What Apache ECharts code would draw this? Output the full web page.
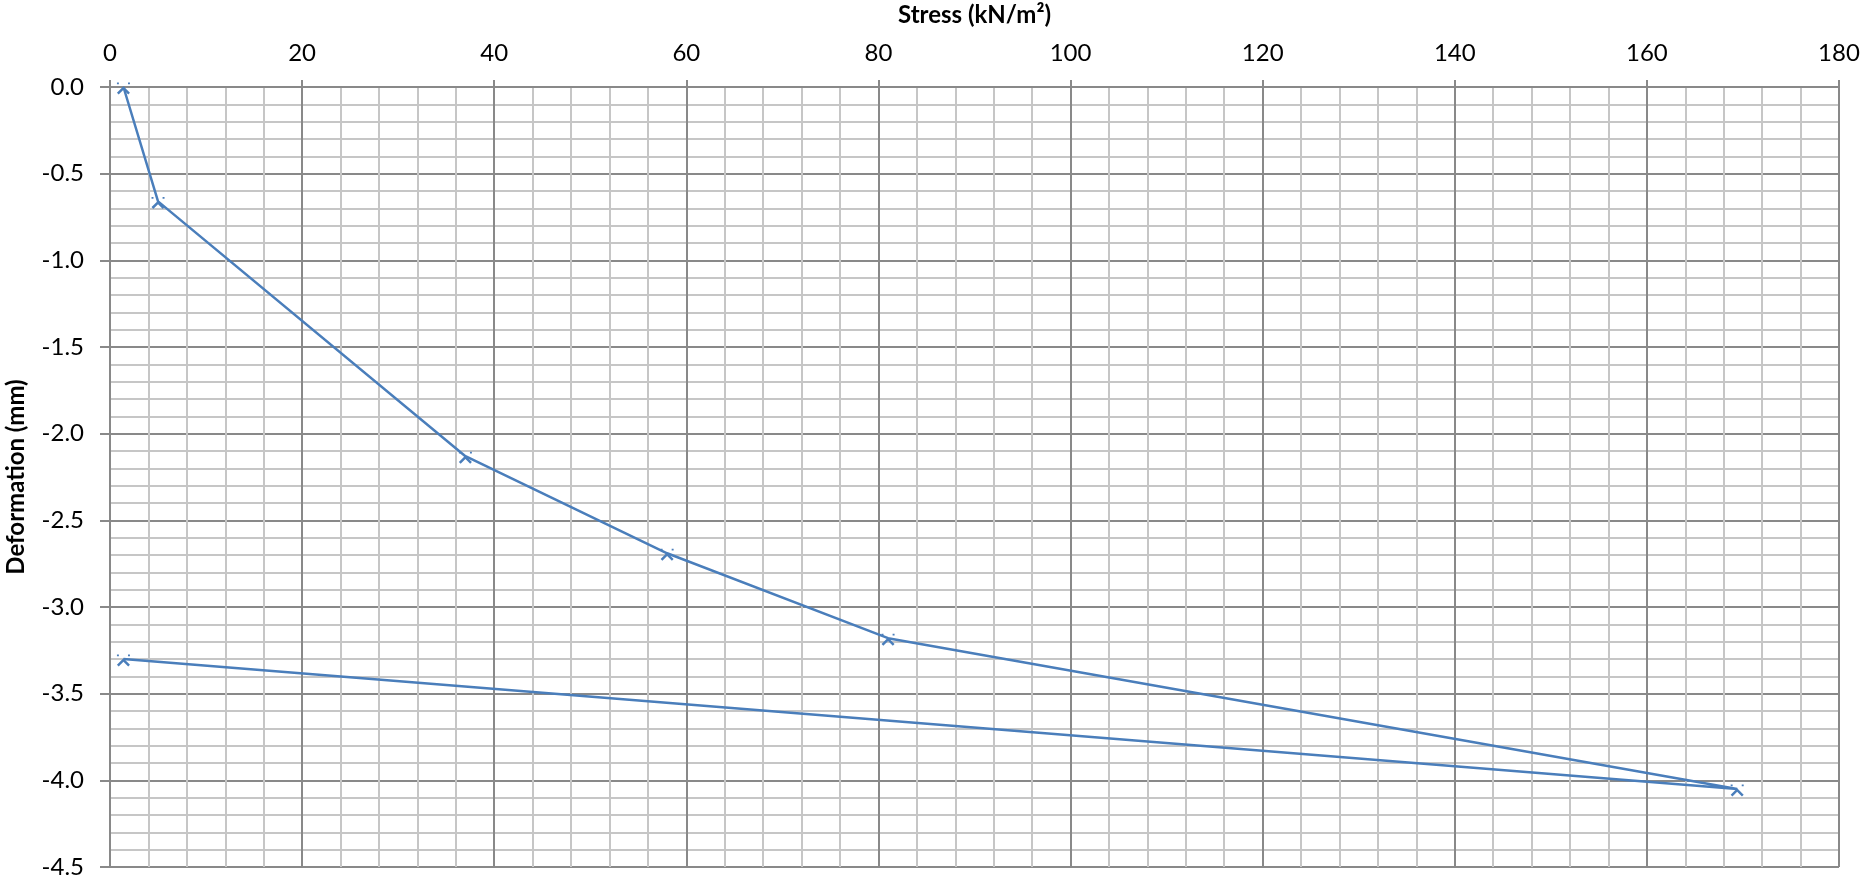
<!DOCTYPE html>
<html>
<head>
<meta charset="utf-8">
<style>
  html, body { margin: 0; padding: 0; background: #ffffff; overflow: hidden; }
  #chart { width: 1860px; height: 880px; }
</style>
<script src="https://cdn.jsdelivr.net/npm/echarts@6/dist/echarts.min.js"></script>
</head>
<body>
<div id="chart"></div>
<script>
// Data
var stress = [1.4, 5.0, 37.0, 58.0, 81.0, 169.4, 1.4];
var deformation = [0.0, -0.66, -2.13, -2.69, -3.18, -4.05, -3.30];
var xTitle = 'Stress (kN/m²)';
var yTitle = 'Deformation (mm)';

var points = stress.map(function (s, i) { return [s, deformation[i]]; });

var markerPath = 'path://M0,1 L1.8,1 L1.8,2.6 L0,2.6 Z M10.2,1 L12,1 L12,2.6 L10.2,2.6 Z M0,10.2 L6,4.4 L12,10.2 L10.4,11.8 L6,7.6 L1.6,11.8 Z';

var majorColor = '#898989';
var minorColor = '#c6c6c6';
var fontFam = 'Lato, "Open Sans", sans-serif';

var chart = echarts.init(document.getElementById('chart'));
chart.setOption({
  backgroundColor: '#ffffff',
  animation: false,
  grid: { left: 110, right: 21, top: 87, bottom: 13, containLabel: false, outerBoundsMode: 'none' },
  xAxis: {
    type: 'value',
    position: 'top',
    min: 0, max: 180, interval: 20,
    name: xTitle,
    nameLocation: 'middle',
    nameGap: 60,
    nameTextStyle: { fontFamily: fontFam, fontWeight: 'bold', fontSize: 24, color: '#000' },
    axisLine: { show: true, onZero: false, lineStyle: { color: majorColor, width: 2 } },
    axisTick: { show: true, inside: false, length: 7, lineStyle: { color: majorColor, width: 2 } },
    axisLabel: { margin: 22, fontFamily: fontFam, fontSize: 24, color: '#000' },
    splitLine: { show: true, lineStyle: { color: majorColor, width: 2 } },
    minorTick: { show: false, splitNumber: 5 },
    minorSplitLine: { show: true, lineStyle: { color: minorColor, width: 2 } }
  },
  yAxis: {
    type: 'value',
    min: -4.5, max: 0, interval: 0.5,
    name: yTitle,
    nameLocation: 'middle',
    nameGap: 82,
    nameRotate: 90,
    nameTextStyle: { fontFamily: fontFam, fontWeight: 'bold', fontSize: 24, color: '#000' },
    axisLine: { show: true, onZero: false, lineStyle: { color: majorColor, width: 2 } },
    axisTick: { show: true, inside: false, length: 10, lineStyle: { color: majorColor, width: 2 } },
    axisLabel: {
      margin: 26, fontFamily: fontFam, fontSize: 24, color: '#000',
      formatter: function (v) { return v.toFixed(1); }
    },
    splitLine: { show: true, lineStyle: { color: majorColor, width: 2 } },
    minorTick: { show: false, splitNumber: 5 },
    minorSplitLine: { show: true, lineStyle: { color: minorColor, width: 2 } }
  },
  series: [{
    type: 'line',
    data: points,
    symbol: markerPath,
    symbolSize: [13, 12],
    symbolOffset: [0, 1.5],
    showAllSymbol: true,
    lineStyle: { color: '#4a7ebb', width: 2.5 },
    itemStyle: { color: '#4a7ebb' },
    z: 5
  }]
});
</script>
</body>
</html>
